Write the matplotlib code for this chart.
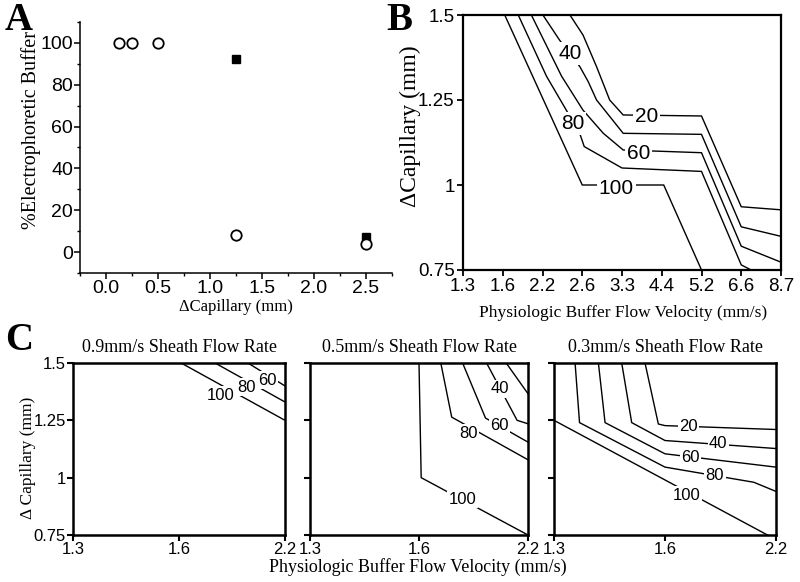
import matplotlib
matplotlib.use("Agg")
import matplotlib.pyplot as plt
from matplotlib.ticker import MultipleLocator

W, H = 800, 582
SANS = "Liberation Sans"
SERIF = "Liberation Serif"

# ---- panel A: % electrophoretic buffer vs capillary offset
a_circle_x = [0.125, 0.25, 0.5, 1.25, 2.5]
a_circle_y = [100, 100, 100, 8, 4]
a_square_x = [1.25, 2.5]
a_square_y = [92.5, 7]

# ---- panel B: contour lines, x in category index of the velocities
b_velocity = ["1.3", "1.6", "2.2", "2.6", "3.3", "4.4", "5.2", "6.6", "8.7"]
cap_ticks = [0.75, 1, 1.25, 1.5]
cap_labels = ["0.75", "1", "1.25", "1.5"]
b_levels = [20, 40, 60, 80, 100]
b_x = [
    [2.69, 3.02, 3.36, 3.69, 4.03, 6.0, 7.0, 8.0],
    [2.01, 2.43, 2.94, 3.15, 3.36, 4.03, 6.0, 7.0, 8.0],
    [1.72, 2.48, 3.02, 3.53, 4.03, 6.0, 7.0, 8.0],
    [1.39, 2.1, 2.6, 2.95, 3.05, 4.0, 6.0, 7.0, 7.25],
    [1.05, 3.0, 5.05, 6.0],
]
b_y = [
    [1.5, 1.441, 1.348, 1.25, 1.206, 1.203, 0.936, 0.927],
    [1.5, 1.426, 1.348, 1.304, 1.25, 1.152, 1.149, 0.877, 0.849],
    [1.5, 1.32, 1.22, 1.152, 1.103, 1.095, 0.82, 0.773],
    [1.5, 1.32, 1.22, 1.147, 1.113, 1.05, 1.04, 0.765, 0.75],
    [1.5, 1.0, 1.0, 0.75],
]
b_label_x = [4.62, 2.69, 4.41, 2.77, 3.86]
b_label_y = [1.2, 1.387, 1.093, 1.181, 0.99]

# ---- panel C: three sheath flow rates
c_velocity = ["1.3", "1.6", "2.2"]
c_titles = ["0.9mm/s Sheath Flow Rate", "0.5mm/s Sheath Flow Rate",
            "0.3mm/s Sheath Flow Rate"]

c1_levels = [60, 80, 100]
c1_x = [[1.65, 2.0], [1.34, 2.0], [1.02, 2.0]]
c1_y = [[1.5, 1.40], [1.5, 1.33], [1.5, 1.25]]
c1_label_x = [1.83, 1.64, 1.39]
c1_label_y = [1.425, 1.395, 1.36]

c2_levels = [20, 40, 60, 80, 100]
c2_x = [[1.80, 2.0], [1.62, 1.90, 2.0], [1.40, 1.61, 2.0],
        [1.2, 1.30, 2.0], [1.0, 1.02, 2.0]]
c2_y = [[1.5, 1.366], [1.5, 1.25, 1.235], [1.5, 1.26, 1.155],
        [1.5, 1.264, 1.078], [1.5, 1.0, 0.75]]
c2_label_lev = [40, 60, 80, 100]
c2_label_x = [1.74, 1.74, 1.45, 1.40]
c2_label_y = [1.388, 1.228, 1.194, 0.905]

c3_levels = [20, 40, 60, 80, 100]
c3_x = [[0.82, 0.94, 1.0, 2.0], [0.61, 0.70, 1.0, 2.0],
        [0.40, 0.46, 1.0, 2.0], [0.19, 0.23, 1.0, 1.80, 2.0], [0.0, 2.0]]
c3_y = [[1.5, 1.234, 1.227, 1.21], [1.5, 1.24, 1.162, 1.127],
        [1.5, 1.24, 1.104, 1.046], [1.5, 1.24, 1.046, 0.98, 0.94],
        [1.25, 0.73]]
c3_label_x = [1.21, 1.48, 1.23, 1.45, 1.195]
c3_label_y = [1.223, 1.147, 1.09, 1.01, 0.923]


def rect(l, t, r, b):
    return [l / W, 1 - b / H, (r - l) / W, (b - t) / H]


def ftext(fig, x, y, s, **kw):
    fig.text(x / W, 1 - y / H, s, **kw)


def draw_lines(ax, xs, ys):
    for x, y in zip(xs, ys):
        ax.plot(x, y, color="black", lw=1.0, zorder=2)


def draw_labels(ax, levels, lx, ly, size):
    for lev, x, y in zip(levels, lx, ly):
        ax.text(x, y, str(lev), ha="center", va="center", fontsize=size,
                family=SANS, zorder=5,
                bbox=dict(boxstyle="square,pad=0.08", fc="white", ec="none"))


def cap_axis(ax, labels=True, size=12):
    ax.set_ylim(0.75, 1.5)
    ax.set_yticks(cap_ticks)
    if labels:
        ax.set_yticklabels(cap_labels, family=SANS, fontsize=size)
    else:
        ax.set_yticklabels([])


fig = plt.figure(figsize=(W / 100, H / 100), dpi=100)

# ---------------- A
axA = fig.add_axes(rect(80, 22, 392, 273))
axA.plot(a_square_x, a_square_y, "s", color="black", ms=6, zorder=2)
axA.plot(a_circle_x, a_circle_y, "o", mfc="white", mec="black", mew=1.3,
         ms=7.5, zorder=3)
axA.set_xlim(-0.25, 2.75)
axA.set_ylim(-10, 110)
axA.xaxis.set_minor_locator(MultipleLocator(0.25))
axA.yaxis.set_minor_locator(MultipleLocator(10))
axA.set_xticks([0, 0.5, 1.0, 1.5, 2.0, 2.5])
axA.set_xticklabels(["0.0", "0.5", "1.0", "1.5", "2.0", "2.5"])
axA.set_yticks([0, 20, 40, 60, 80, 100])
for lab in axA.get_xticklabels() + axA.get_yticklabels():
    lab.set_family(SANS)
    lab.set_fontsize(14)
axA.spines["top"].set_visible(False)
axA.spines["right"].set_visible(False)
for s in ["left", "bottom"]:
    axA.spines[s].set_linewidth(1.1)
axA.tick_params(which="major", direction="out", length=4, width=1.1, pad=1)
axA.tick_params(which="minor", direction="out", length=2.5, width=1.0)
ftext(fig, 31, 130, "%Electrophoretic Buffer", family=SERIF, fontsize=14.5,
      rotation=90, ha="center", va="center")
ftext(fig, 236, 307, "\u0394Capillary (mm)", family=SERIF, fontsize=12,
      ha="center", va="center")

# ---------------- B
axB = fig.add_axes(rect(463, 15, 781, 270))
draw_lines(axB, b_x, b_y)
draw_labels(axB, b_levels, b_label_x, b_label_y, 15)
axB.set_xlim(0, len(b_velocity) - 1)
axB.set_xticks(range(len(b_velocity)))
axB.set_xticklabels(b_velocity, family=SANS, fontsize=13.5)
cap_axis(axB, size=13.5)
for s in axB.spines.values():
    s.set_linewidth(1.6)
axB.tick_params(direction="out", length=4, width=1.3, pad=2)
ftext(fig, 623, 313, "Physiologic Buffer Flow Velocity (mm/s)", family=SERIF,
      fontsize=12.5, ha="center", va="center")
ftext(fig, 410, 126, "\u0394Capillary (mm)", family=SERIF, fontsize=17,
      rotation=90, ha="center", va="center")

# ---------------- C
c_rects = [(73, 363, 285, 535), (310, 363, 528, 535), (554, 363, 776, 535)]
c_axes = [fig.add_axes(rect(*r)) for r in c_rects]
draw_lines(c_axes[0], c1_x, c1_y)
draw_labels(c_axes[0], c1_levels, c1_label_x, c1_label_y, 12)
draw_lines(c_axes[1], c2_x, c2_y)
draw_labels(c_axes[1], c2_label_lev, c2_label_x, c2_label_y, 12)
draw_lines(c_axes[2], c3_x, c3_y)
draw_labels(c_axes[2], c3_levels, c3_label_x, c3_label_y, 12)

for i, ax in enumerate(c_axes):
    ax.set_xlim(0, len(c_velocity) - 1)
    ax.set_xticks(range(len(c_velocity)))
    ax.set_xticklabels(c_velocity, family=SANS, fontsize=12)
    cap_axis(ax, labels=(i == 0), size=12)
    for s in ax.spines.values():
        s.set_linewidth(1.8)
    ax.tick_params(direction="out", length=4, width=1.5, pad=1)
    l, t, r, b = c_rects[i]
    ftext(fig, (l + r) / 2, 348, c_titles[i], family=SERIF, fontsize=13,
          ha="center", va="center")

ftext(fig, 418, 567, "Physiologic Buffer Flow Velocity (mm/s)", family=SERIF,
      fontsize=13, ha="center", va="center")
ftext(fig, 28, 458, "\u0394 Capillary (mm)", family=SERIF, fontsize=12.5,
      rotation=90, ha="center", va="center")

# panel letters
ftext(fig, 5, 20, "A", family=SERIF, fontsize=28, weight="bold",
      ha="left", va="center")
ftext(fig, 386, 20, "B", family=SERIF, fontsize=28, weight="bold",
      ha="left", va="center")
ftext(fig, 5, 340, "C", family=SERIF, fontsize=28, weight="bold",
      ha="left", va="center")

fig.savefig("out.png", dpi=100)
